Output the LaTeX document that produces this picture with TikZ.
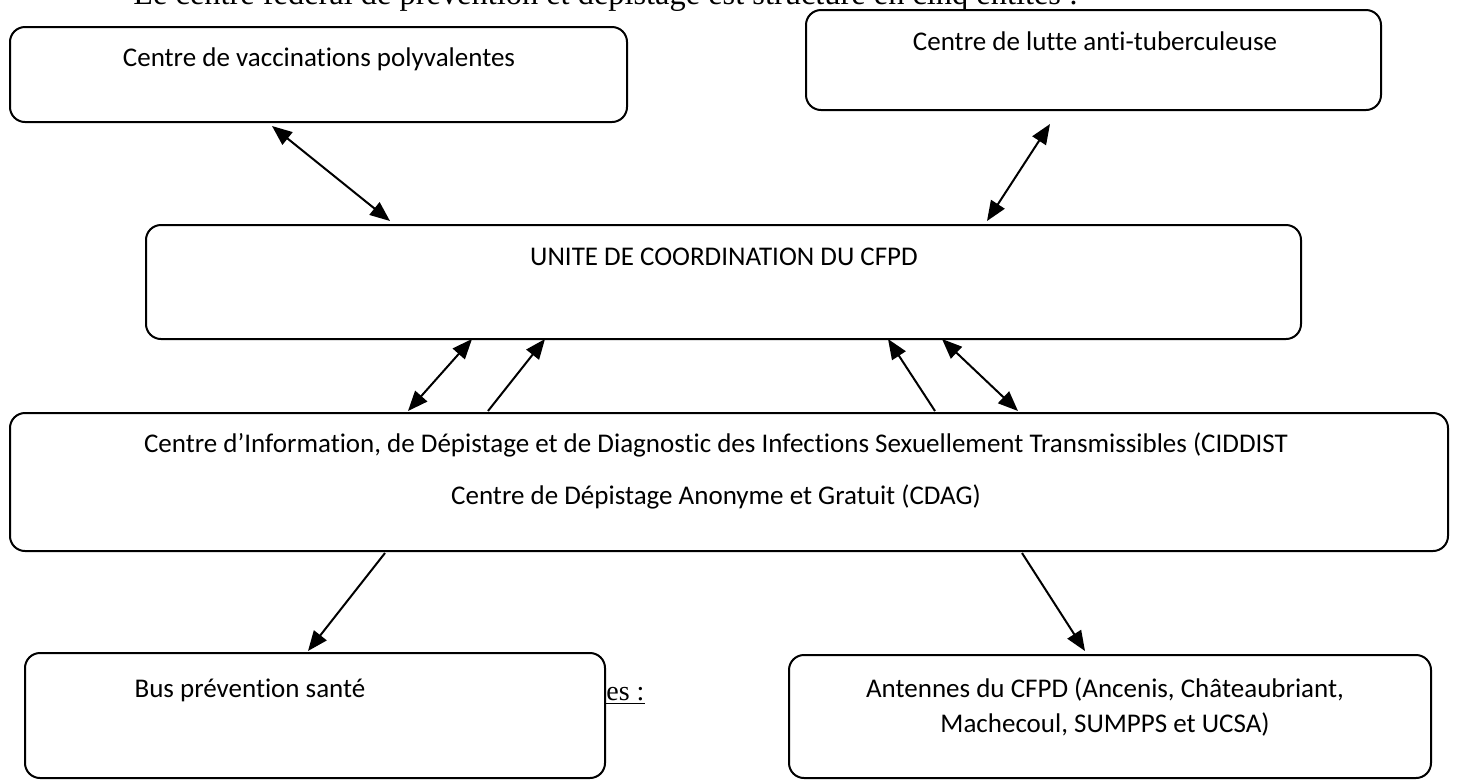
\documentclass[tikz,border=0pt]{standalone}
\usepackage{fontspec}
\setmainfont{Liberation Serif}
\newfontfamily\boxfont[Ligatures={NoCommon}]{Carlito}
\usepackage{tikz}
\usetikzlibrary{positioning, arrows.meta, calc}

\begin{document}
\begin{tikzpicture}[x=0.5pt, y=-0.5pt,
  box/.style={draw, rectangle, rounded corners=7.5pt, line width=1pt, fill=white, inner sep=0pt},
  lbl/.style={font=\boxfont\fontsize{13.5}{17.5}\selectfont, anchor=base, align=center, inner sep=0pt},
  link/.style={line width=1pt, >={Triangle[length=10pt, width=8pt]}}]
\useasboundingbox (0,0) rectangle (1457,783);
\clip (0,0) rectangle (1457,783);

% text of the page, cut by the picture
\node[anchor=base west, inner sep=0pt, font=\fontsize{16.2}{18}\selectfont] (intro) at (133,4) {Le centre fédéral de prévention et dépistage est structuré en cinq entités :};
\node[anchor=base west, inner sep=0pt, font=\fontsize{14}{16}\selectfont] (act) at (606,700) {\underline{es :}};

% boxes
\node[box, minimum width=308.5pt, minimum height=47.5pt] (vacc) at (318.5,74.5) {};
\node[box, minimum width=287.5pt, minimum height=50pt] (tuber) at (1093.5,60) {};
\node[box, minimum width=577.5pt, minimum height=57pt] (coord) at (723.5,282) {};
\node[box, minimum width=719pt, minimum height=69pt] (cidd) at (729,482) {};
\node[box, minimum width=290pt, minimum height=62.5pt] (bus) at (315,715.5) {};
\node[box, minimum width=321pt, minimum height=61.5pt] (ant) at (1110,716.5) {};

% labels (multi-line ones sit on their last line)
\node[lbl] (vacc-t) at (319,66) {Centre de vaccinations polyvalentes};
\node[lbl] (tuber-t) at (1095,50) {Centre de lutte anti-tuberculeuse};
\node[lbl] (coord-t) at (724,265) {UNITE DE COORDINATION DU CFPD};
\node[lbl] (cidd-t) at (716,504) {Centre d’Information, de Dépistage et de Diagnostic des Infections Sexuellement Transmissibles (CIDDIST\\[8.5pt]Centre de Dépistage Anonyme et Gratuit (CDAG)};
\node[lbl] (bus-t) at (250,697) {Bus prévention santé};
\node[lbl] (ant-t) at (1105,732) {Antennes du CFPD (Ancenis, Châteaubriant,\\Machecoul, SUMPPS et UCSA)};

% links
\draw[link, <->] ($(vacc.south)+(-46.5,3)$) -- ($(coord.north)+(-333.5,-3)$);
\draw[link, <->] ($(tuber.south)+(-43.5,13)$) -- ($(coord.north)+(263.5,-3)$);
\draw[link, <->] ($(cidd.north)+(-321,-1)$) -- ($(coord.south)+(-251.5,-1)$);
\draw[link, ->] ($(cidd.north)+(-241,-1)$) -- ($(coord.south)+(-178.5,-1)$);
\draw[link, ->] ($(cidd.north)+(206,-1)$) -- ($(coord.south)+(164.5,-1)$);
\draw[link, <->] ($(coord.south)+(218.5,-1)$) -- ($(cidd.north)+(289,-1)$);
\draw[link, ->] ($(cidd.south)+(-344,1)$) -- ($(bus.north)+(-7,-1)$);
\draw[link, ->] ($(cidd.south)+(293,1)$) -- ($(ant.north)+(-25,-3)$);
\end{tikzpicture}
\end{document}
